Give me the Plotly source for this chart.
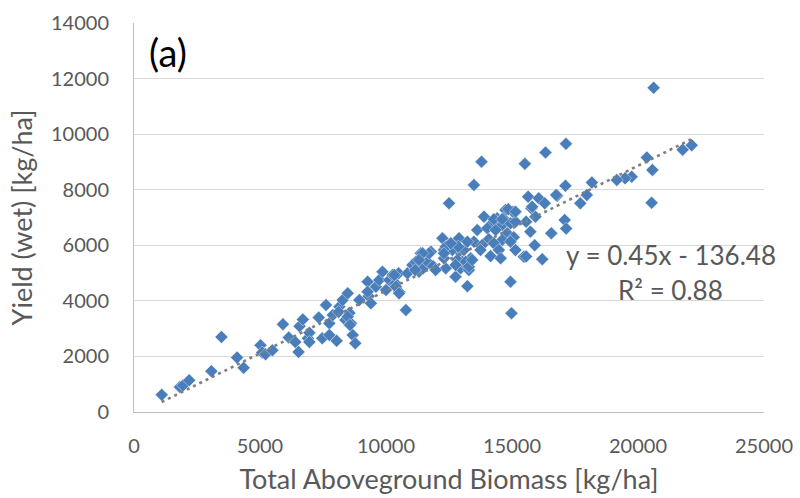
import plotly.graph_objects as go

# Total aboveground biomass [kg/ha] and yield (wet) [kg/ha]
biomass = [
    1100, 1820, 1950, 2190, 3070, 3470, 4090, 4350, 5020, 5090,
    5220, 5490, 5910, 6140, 6400, 6530, 6570, 6700, 6900, 6960,
    6960, 7330, 7470, 7620, 7750, 7750, 7890, 8040, 8150, 8120,
    8280, 8390, 8480, 8550, 8610, 8680, 8780, 8940, 9270, 9310,
    9270, 9400, 9600, 9730, 9860, 10000, 10130, 10260, 10370, 10520,
    10500, 10790, 10850, 11050, 11180, 11310, 11380, 11470, 11640, 11780,
    11870, 12240, 12300, 12370, 12500, 12630, 12830, 12900, 12960, 13030,
    13230, 13290, 13360, 13490, 13490, 13620, 12760, 13790, 15510, 16330,
    17120, 15640, 16060, 16300, 16790, 15770, 15930, 15560, 15730, 16560,
    17090, 14740, 15030, 13890, 14410, 14650, 14210, 14610, 14940, 15140,
    14020, 14350, 14810, 15070, 14610, 14080, 13820, 14280, 14480, 14940,
    15140, 14150, 14550, 15470, 14940, 14980, 17140, 20350, 20570, 19750,
    19490, 19160, 18170, 17970, 17710, 20540, 20620, 22130, 21770, 14850,
    12300, 12830, 13160, 12760, 13290, 12630, 13090, 12900, 13230, 12370,
    12870, 13750, 13420, 11970, 11710, 11450, 11310, 11160, 12300, 12570,
    10330, 10390, 10520, 8480, 8570, 14280, 14610, 15140, 15800, 16750,
    15900, 15560, 16200, 17150,
]
yield_wet = [
    620, 900, 960, 1140, 1470, 2700, 1960, 1590, 2400, 2140,
    2080, 2220, 3160, 2680, 2520, 2160, 3090, 3330, 2650, 2850,
    2520, 3400, 2650, 3850, 3190, 2770, 3490, 2560, 3790, 3600,
    4030, 3310, 4270, 3560, 3190, 2770, 2470, 4030, 4690, 4170,
    4330, 3910, 4510, 4750, 5050, 4390, 4750, 4930, 4630, 4330,
    4990, 3670, 4990, 5290, 5410, 5050, 5710, 5170, 5410, 5770,
    5250, 6250, 5830, 5170, 7510, 6010, 6190, 5770, 5170, 5410,
    4530, 5110, 5530, 6130, 8170, 6550, 4870, 9010, 8930, 9340,
    8140, 7750, 7690, 7510, 7780, 7330, 7030, 6850, 6490, 6430,
    6910, 7270, 7210, 7030, 6970, 6970, 6790, 6730, 6790, 6850,
    6610, 6550, 6430, 6290, 6190, 6220, 6010, 6070, 5830, 6130,
    5830, 5610, 5530, 5590, 4690, 3550, 9650, 9160, 8710, 8470,
    8410, 8350, 8260, 7810, 7510, 7530, 11670, 9600, 9440, 7300,
    5530, 5470, 5410, 5290, 5230, 5830, 5830, 6250, 6130, 5950,
    5950, 5830, 5470, 5110, 5710, 5710, 5470, 5110, 5710, 6070,
    4930, 4510, 4270, 3430, 3130, 6940, 6940, 7210, 7390, 7810,
    6000, 5600, 5500, 6600,
]

x_ticks = [0, 5000, 10000, 15000, 20000, 25000]
y_ticks = [0, 2000, 4000, 6000, 8000, 10000, 12000, 14000]

slope = 0.45
intercept = -136.48
equation_text = "y = 0.45x - 136.48"
r2_text = "R² = 0.88"
panel_label = "(a)"

font_family = "Lato, 'Open Sans', sans-serif"
grey_text = "#595959"

x_min = min(biomass)
x_max = max(biomass)
trend_x = [x_min, x_max]
trend_y = [slope * v + intercept for v in trend_x]

fig = go.Figure()
fig.add_trace(go.Scatter(
    x=biomass, y=yield_wet, mode="markers",
    marker=dict(symbol="diamond", size=10, color="#4A7EBB",
                line=dict(color="rgba(255,255,255,0.7)", width=0.6)),
    showlegend=False, hoverinfo="x+y",
))
fig.add_trace(go.Scatter(
    x=trend_x, y=trend_y, mode="lines",
    line=dict(color="#7F7F7F", width=2.6, dash="3px,4px"),
    showlegend=False, hoverinfo="skip",
))

fig.update_layout(
    width=800, height=498,
    margin=dict(l=134, r=36, t=23, b=86),
    paper_bgcolor="white", plot_bgcolor="white",
    font=dict(family=font_family, color=grey_text),
    xaxis=dict(
        range=[0, 25000], tickvals=x_ticks, ticktext=[str(v) for v in x_ticks],
        showgrid=False, zeroline=False, showline=True, linecolor="#BFBFBF", linewidth=1,
        ticks="outside", ticklen=16, tickcolor="rgba(0,0,0,0)",
        tickfont=dict(size=20, color=grey_text, family=font_family),
        title=dict(text="Total Aboveground Biomass [kg/ha]", standoff=14,
                   font=dict(size=27, color=grey_text, family=font_family)),
        automargin=False, fixedrange=True,
    ),
    yaxis=dict(
        range=[0, 14000], tickvals=y_ticks, ticktext=[str(v) for v in y_ticks],
        showgrid=True, gridcolor="#D9D9D9", gridwidth=1.3,
        zeroline=False, showline=True, linecolor="#BFBFBF", linewidth=1,
        ticks="outside", ticklen=20, tickcolor="rgba(0,0,0,0)",
        tickfont=dict(size=20, color=grey_text, family=font_family),
        title=dict(text="Yield (wet) [kg/ha]", standoff=10,
                   font=dict(size=27, color=grey_text, family=font_family)),
        automargin=False, fixedrange=True,
    ),
    annotations=[
        dict(text=panel_label, xref="paper", yref="paper", x=0.02, y=0.925,
             xanchor="left", yanchor="middle", showarrow=False,
             font=dict(size=38, color="black", family=font_family)),
        dict(text=equation_text, xref="paper", yref="paper", x=0.852, y=0.404,
             xanchor="center", yanchor="middle", showarrow=False,
             font=dict(size=26, color=grey_text, family=font_family)),
        dict(text=r2_text, xref="paper", yref="paper", x=0.852, y=0.314,
             xanchor="center", yanchor="middle", showarrow=False,
             font=dict(size=26, color=grey_text, family=font_family)),
    ],
)

fig.write_html("out.html")
